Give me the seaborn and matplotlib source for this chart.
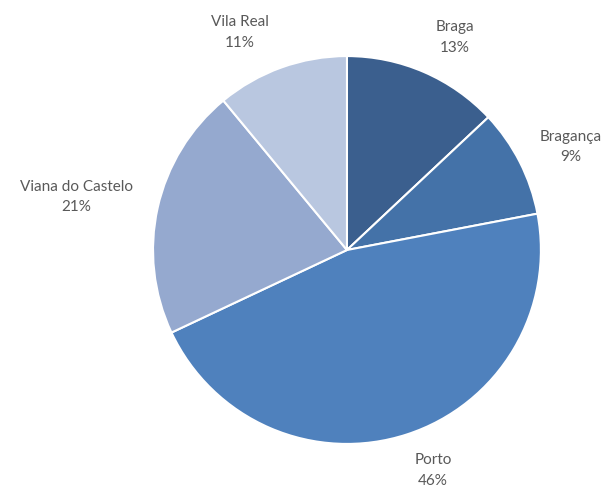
import numpy as np
import seaborn as sns
import matplotlib.pyplot as plt

# Distritos e percentagens
distritos = ['Braga', 'Bragança', 'Porto', 'Viana do Castelo', 'Vila Real']
percentagens = [13, 9, 46, 21, 11]
cores = sns.color_palette(['#3B5F8E', '#4472A8', '#4F81BD', '#95A9CF', '#B9C7E0'])

sns.set_style('white')
plt.rcParams['font.family'] = ['Lato', 'DejaVu Sans']

fig = plt.figure(figsize=(6.07, 4.88), dpi=100)
ax = fig.add_axes([0.5717 - 0.3196, 0.4877 - 0.3975, 0.639, 0.795])

wedges, textos = ax.pie(percentagens, colors=cores, startangle=90, counterclock=False,
                        wedgeprops=dict(edgecolor='white', linewidth=1.5),
                        labels=[f'{d}\n{p}%' for d, p in zip(distritos, percentagens)],
                        labeldistance=1.25, textprops=dict(color='#595959', fontsize=11))

# Afastamento radial e desvio angular de cada rótulo (estilo Excel)
distancias = [1.23, 1.27, 1.22, 1.42, 1.25]
desvios = [-3.5, -2.3, 3.3, 1.5, 6.4]
for w, t, dist, dv in zip(wedges, textos, distancias, desvios):
    ang = np.deg2rad((w.theta1 + w.theta2) / 2 + dv)
    t.set_position((dist * np.cos(ang), dist * np.sin(ang)))
    t.set_horizontalalignment('center')
    t.set_verticalalignment('center')
    t.set_linespacing(1.6)

ax.set_xlim(-1, 1)
ax.set_ylim(-1, 1)
ax.set_aspect('equal')
fig.savefig('out.png', dpi=100)
